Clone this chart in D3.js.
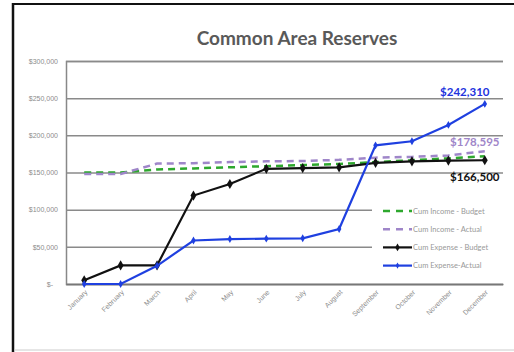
<!DOCTYPE html>
<html>
<head>
<meta charset="utf-8">
<script src="https://cdn.jsdelivr.net/npm/d3@7"></script>
<style>
  body { margin: 0; background: #fff; }
  svg { display: block; font-family: Lato, "Open Sans", sans-serif; }
</style>
</head>
<body>
<svg width="514" height="352"></svg>
<script>
const months = ["January", "February", "March", "April", "May", "June",
                "July", "August", "September", "October", "November", "December"];

const incomeBudget = [150000, 150000, 154000, 155500, 157000, 158500, 160000, 161500, 164000, 166500, 169000, 172000];
const incomeActual = [148000, 148000, 162000, 162500, 164000, 165000, 165500, 167000, 170000, 171000, 173000, 178595];
const expenseBudget = [5000, 25000, 25000, 119000, 134500, 155000, 156000, 157000, 163000, 165000, 166000, 166500];
const expenseActual = [0, 0, 24500, 58500, 60500, 61000, 61500, 74000, 186500, 192000, 214000, 242310];

const yTicks = [0, 50000, 100000, 150000, 200000, 250000, 300000];

const svg = d3.select("svg"),
      margin = { top: 61, right: 11, bottom: 68, left: 66 },
      width = +svg.attr("width") - margin.left - margin.right,
      height = +svg.attr("height") - margin.top - margin.bottom;

// frame of the screenshot
svg.append("line").attr("x1", 13).attr("x2", 13).attr("y1", 3).attr("y2", 352)
   .attr("stroke", "#111").attr("stroke-width", 2.5);
svg.append("line").attr("x1", 13).attr("x2", 514).attr("y1", 4).attr("y2", 4)
   .attr("stroke", "#111").attr("stroke-width", 2);
svg.append("line").attr("x1", 14).attr("x2", 514).attr("y1", 350).attr("y2", 350)
   .attr("stroke", "#ccc").attr("stroke-width", 1);

svg.append("text")
    .attr("x", 297).attr("y", 45)
    .attr("text-anchor", "middle")
    .attr("font-size", 19).attr("font-weight", "bold")
    .attr("fill", "#595959")
    .text("Common Area Reserves");

const chart = svg.append("g")
    .attr("transform", `translate(${margin.left},${margin.top})`);

const x = d3.scaleBand().domain(months).range([0, width]);
const cx = d => x(d) + x.bandwidth() / 2;

const y = d3.scaleLinear().domain([0, 300000]).range([height, 0]);

// gridlines + y axis
const yAxis = chart.append("g")
    .call(d3.axisLeft(y).tickValues(yTicks).tickSize(-width).tickPadding(8)
        .tickFormat(d => d === 0 ? "$-" : "$" + d3.format(",")(d)));
yAxis.select(".domain").attr("stroke", "#888").attr("stroke-width", 1.5);
yAxis.selectAll(".tick line").attr("stroke", "#8a8a8a").attr("stroke-width", 1.5);
yAxis.selectAll(".tick text").attr("fill", "#8c8c8c").attr("font-size", 7)
    .attr("dx", d => d === 0 ? -5 : 0);

// x axis
const xAxis = chart.append("g")
    .attr("transform", `translate(0,${height})`)
    .call(d3.axisBottom(x).tickSize(0));
xAxis.select(".domain").attr("stroke", "#777").attr("stroke-width", 1.5);
xAxis.selectAll(".tick text")
    .attr("fill", "#8c8c8c").attr("font-size", 7)
    .attr("text-anchor", "end")
    .attr("x", 0).attr("y", 0)
    .attr("dy", "0.35em")
    .attr("transform", "translate(2,7) rotate(-45)");

const line = d3.line().x((d, i) => cx(months[i])).y(d => y(d));

const series = [
  { name: "Cum Income - Budget", values: incomeBudget, color: "#2ea82e", dash: "7,5", width: 2.5, marker: false },
  { name: "Cum Income - Actual", values: incomeActual, color: "#9f86c9", dash: "7,5", width: 2.5, marker: false },
  { name: "Cum Expense - Budget", values: expenseBudget, color: "#111", dash: null, width: 2.2, marker: 30 },
  { name: "Cum Expense-Actual", values: expenseActual, color: "#1f40e0", dash: null, width: 2.2, marker: 18 }
];

series.forEach(s => {
  chart.append("path")
      .datum(s.values)
      .attr("fill", "none")
      .attr("stroke", s.color)
      .attr("stroke-width", s.width)
      .attr("stroke-dasharray", s.dash)
      .attr("d", line);
  if (s.marker) {
    chart.selectAll(null)
        .data(s.values)
        .enter()
        .append("path")
        .attr("transform", (d, i) => `translate(${cx(months[i])},${y(d)})`)
        .attr("d", d3.symbol(d3.symbolDiamond, s.marker))
        .attr("fill", s.color);
  }
});

// end labels
const endLabels = [
  { text: "$242,310", value: expenseActual[11], color: "#2233dd", dy: -8 },
  { text: "$178,595", value: incomeActual[11], color: "#9f86c9", dy: -5 },
  { text: "$166,500", value: expenseBudget[11], color: "#111", dy: 21 }
];
chart.selectAll(".endlabel")
    .data(endLabels)
    .enter()
    .append("text")
    .attr("class", "endlabel")
    .attr("x", (d, i) => cx("December") - (i === 0 ? 20 : 10))
    .attr("y", d => y(d.value) + d.dy)
    .attr("text-anchor", "middle")
    .attr("font-size", 11.5).attr("font-weight", "bold")
    .attr("fill", d => d.color)
    .text(d => d.text);

// legend (white box hides the gridlines behind it)
const legend = svg.append("g").attr("transform", "translate(383,211)");
legend.append("rect")
    .attr("x", -11).attr("y", -10).attr("width", 131).attr("height", 73)
    .attr("fill", "#fff");
series.forEach((s, i) => {
  const g = legend.append("g").attr("transform", `translate(0,${i * 18.2})`);
  g.append("line")
      .attr("x1", 0).attr("x2", 29)
      .attr("stroke", s.color).attr("stroke-width", s.width)
      .attr("stroke-dasharray", s.dash ? "7,6" : null);
  if (s.marker) {
    g.append("path").attr("transform", "translate(14.5,0)")
        .attr("d", d3.symbol(d3.symbolDiamond, s.marker * 0.6)).attr("fill", s.color);
  }
  g.append("text")
      .attr("x", 30).attr("dy", "0.35em")
      .attr("font-size", 7.5).attr("fill", "#999")
      .text(s.name);
});
</script>
</body>
</html>
